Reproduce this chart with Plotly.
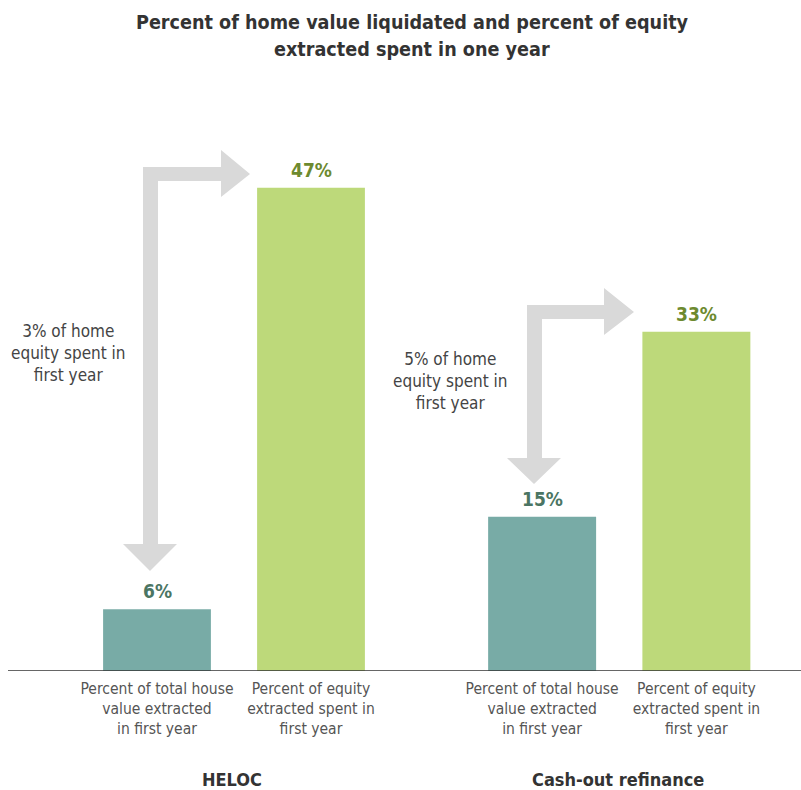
import plotly.graph_objects as go

# ---- data ----
groups = ["HELOC", "Cash-out refinance"]
bar_labels = [
    "Percent of total house<br>value extracted<br>in first year",
    "Percent of equity<br>extracted spent in<br>first year",
]
heloc_values = [6, 47]
cashout_values = [15, 33]
spent_notes = [
    "3% of home<br>equity spent in<br>first year",
    "5% of home<br>equity spent in<br>first year",
]
title_lines = ["Percent of home value liquidated and percent of equity",
               "extracted spent in one year"]

# ---- style ----
W, H = 801, 790
M_T, M_B = 100, 119
PLOT_H = H - M_T - M_B
FONT = "Liberation Sans Narrow, DejaVu Sans Condensed, Roboto Condensed, Arial Narrow, sans-serif"
BAR_COLORS = ["#78aba6", "#bdd97a"]
LABEL_COLORS = ["#4b7563", "#6d8a2f"]
ARROW_GRAY = "#d9d9d9"
TEXT_GRAY = "#555555"
DARK = "#333333"


def px_x(px):
    return px / W


def px_y(py):
    return (H - M_B - py) / PLOT_H


def arrow_path(pts):
    return "M " + " L ".join(f"{px_x(x):.5f},{px_y(y):.5f}" for x, y in pts) + " Z"


fig = go.Figure()
series = [heloc_values, cashout_values]
axes = [("x", "y"), ("x2", "y")]
for vals, (xa, ya) in zip(series, axes):
    fig.add_trace(go.Bar(
        x=bar_labels, y=vals, xaxis=xa, yaxis=ya,
        marker=dict(color=BAR_COLORS, line=dict(width=0)),
        hoverinfo="skip", showlegend=False,
    ))

annotations = []
for vals, (xa, ya) in zip(series, axes):
    for i, (lab, v) in enumerate(zip(bar_labels, vals)):
        annotations.append(dict(
            x=lab, y=v, xref=xa, yref=ya, text=f"<b>{v}%</b>",
            showarrow=False, xanchor="center", yanchor="bottom", yshift=5,
            font=dict(family=FONT, size=19, color=LABEL_COLORS[i]),
        ))

# title (two lines)
for line, cy in zip(title_lines, [22, 50]):
    annotations.append(dict(
        x=px_x(412), y=px_y(cy), xref="paper", yref="paper",
        text=f"<b>{line}</b>", showarrow=False, xanchor="center", yanchor="middle",
        font=dict(family=FONT, size=19.6, color=DARK),
    ))

# group labels
for g, cx in zip(groups, [232, 618]):
    annotations.append(dict(
        x=px_x(cx), y=px_y(779), xref="paper", yref="paper",
        text=f"<b>{g}</b>", showarrow=False, xanchor="center", yanchor="middle",
        font=dict(family=FONT, size=18, color=DARK),
    ))

# arrow notes
for note, (cx, cy) in zip(spent_notes, [(68, 353), (450, 381)]):
    annotations.append(dict(
        x=px_x(cx), y=px_y(cy), xref="paper", yref="paper",
        text=note, showarrow=False, xanchor="center", yanchor="middle", align="center",
        font=dict(family=FONT, size=17, color="#444444"),
    ))

shapes = [
    dict(type="line", xref="paper", yref="y", x0=px_x(8), x1=1, y0=0, y1=0,
         line=dict(color=DARK, width=1.5)),
    dict(type="path", xref="paper", yref="paper", fillcolor=ARROW_GRAY, line=dict(width=0),
         path=arrow_path([(143, 544), (143, 167), (221, 167), (221, 150), (250, 174),
                          (221, 197), (221, 181), (158, 181), (158, 544), (177, 544),
                          (150, 571), (123, 544)])),
    dict(type="path", xref="paper", yref="paper", fillcolor=ARROW_GRAY, line=dict(width=0),
         path=arrow_path([(527, 458), (527, 305), (604, 305), (604, 288), (634, 312),
                          (604, 335), (604, 319), (542, 319), (542, 458), (561, 458),
                          (534, 484), (507, 458)])),
]

tick_font = dict(family=FONT, size=15.5, color=TEXT_GRAY)
xcommon = dict(showgrid=False, zeroline=False, showline=False, ticks="",
               tickfont=tick_font, fixedrange=True, ticklabelstandoff=6)

fig.update_layout(
    width=W, height=H,
    margin=dict(l=0, r=0, t=M_T, b=M_B),
    paper_bgcolor="white", plot_bgcolor="white",
    bargap=0.3,
    xaxis=dict(domain=[px_x(80), px_x(388)], anchor="y", **xcommon),
    xaxis2=dict(domain=[px_x(465), px_x(773.5)], anchor="y", **xcommon),
    yaxis=dict(range=[0, PLOT_H / 10.28], visible=False, fixedrange=True),
    annotations=annotations,
    shapes=shapes,
)

fig.write_html(
    "out.html",
    config={"displayModeBar": False},
    post_script="document.body.style.margin='0';document.body.style.overflow='hidden';",
)
